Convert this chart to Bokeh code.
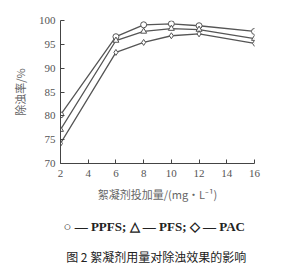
from bokeh.plotting import figure
from bokeh.models import Title, FixedTicker
from bokeh.embed import file_html
from bokeh.resources import INLINE

dose = [2, 6, 8, 10, 12, 16]
ppfs = [80.2, 96.6, 99.1, 99.3, 98.9, 97.7]
pfs = [77.1, 95.8, 97.7, 98.3, 98.1, 96.2]
pac = [74.2, 93.3, 95.4, 96.8, 97.2, 95.2]
x_ticks = [2, 4, 6, 8, 10, 12, 14, 16]
y_ticks = [70, 75, 80, 85, 90, 95, 100]

p = figure(frame_width=194, frame_height=143, output_backend="svg", toolbar_location=None,
           x_range=(2, 16), y_range=(70, 100),
           min_border_left=60, min_border_right=28, min_border_top=20, min_border_bottom=0)
p.outline_line_color = None
p.grid.grid_line_color = None
p.background_fill_color = "white"
p.border_fill_color = "white"

line_col = "#555555"
for ys, mk in [(ppfs, "circle"), (pfs, "triangle"), (pac, "diamond")]:
    p.line(dose, ys, line_color=line_col, line_width=1.3)
    p.scatter(dose, ys, marker=mk, size=6, fill_color="white", line_color=line_col, line_width=1)

for ax in (p.xaxis, p.yaxis):
    ax.axis_line_color = "#444444"
    ax.major_tick_line_color = "#444444"
    ax.major_tick_in = 4
    ax.major_tick_out = 0
    ax.minor_tick_line_color = None
    ax.major_label_text_font = "Liberation Serif"
    ax.major_label_text_font_size = "11px"
    ax.major_label_text_color = "#555555"
    ax.axis_label_text_font = "Noto Sans CJK SC"
    ax.axis_label_text_font_size = "11px"
    ax.axis_label_text_font_style = "normal"
    ax.axis_label_text_color = "#666666"

p.xaxis.ticker = FixedTicker(ticks=x_ticks)
p.yaxis.ticker = FixedTicker(ticks=y_ticks)
p.xaxis.major_label_standoff = 6
p.xaxis.axis_label = "絮凝剂投加量/(mg·L⁻¹)"
p.yaxis.axis_label = "除浊率/%"
p.xaxis.axis_label_standoff = 6
p.yaxis.axis_label_standoff = 8

cap = Title(text="图 2  絮凝剂用量对除浊效果的影响", align="center",
            text_font="Noto Sans CJK SC", text_font_size="12px",
            text_font_style="normal", text_color="#222222", standoff=0,
            text_line_height=1.0)
leg = Title(text="○ — PPFS;  △ — PFS;  ◇ — PAC", align="center",
            text_font="Liberation Serif", text_font_size="13px",
            text_font_style="bold", text_color="#222222", standoff=24,
            text_line_height=1.0)
p.add_layout(leg, "below")
p.add_layout(cap, "below")

open("out.html", "w").write(file_html(p, INLINE))
